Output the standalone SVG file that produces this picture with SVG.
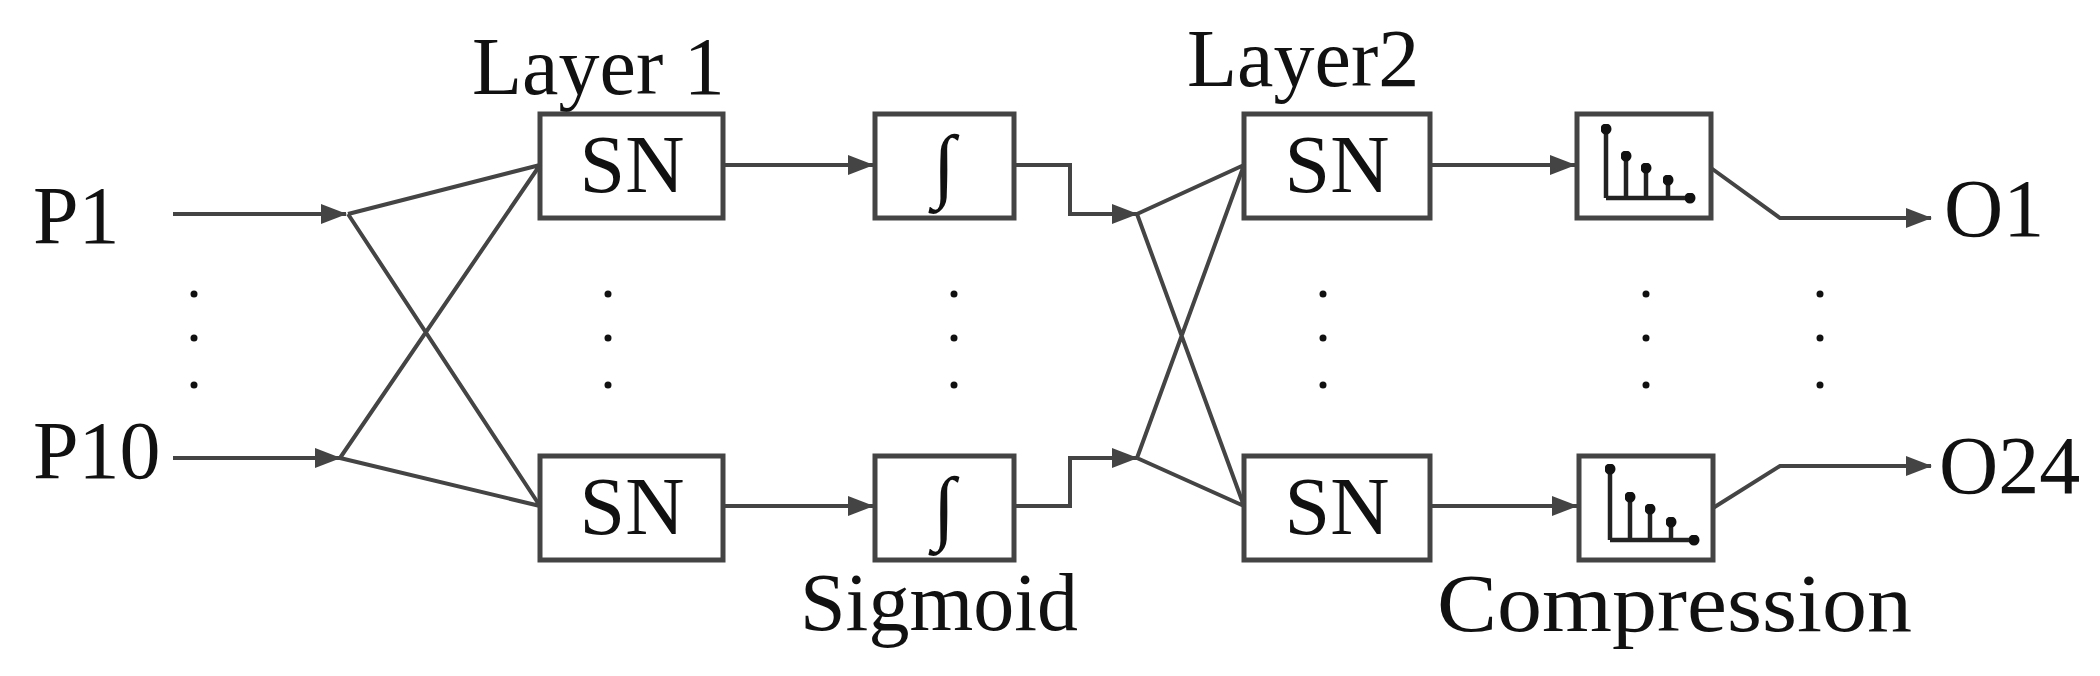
<svg xmlns="http://www.w3.org/2000/svg" width="2100" height="676" viewBox="0 0 2100 676">
<style>
text{font-family:"Liberation Serif","DejaVu Serif",serif;font-size:82px;fill:#111}
.b{fill:#fff;stroke:#444;stroke-width:5}
.c{fill:none;stroke:#444;stroke-width:4}
.t{stroke:#222;stroke-width:4.5;fill:none}
.d{fill:#111}
</style>
<defs>
<marker id="ah" viewBox="0 0 26 20" refX="25" refY="10" markerWidth="26" markerHeight="20" orient="auto" markerUnits="userSpaceOnUse"><path d="M0,0L26,10L0,20z" fill="#444"/></marker>
<marker id="dt" viewBox="0 0 10 10" refX="5" refY="5" markerWidth="11" markerHeight="11" markerUnits="userSpaceOnUse"><circle cx="5" cy="5" r="5" fill="#111"/></marker>
</defs>
<g id="labels">
<text x="33" y="243">P1</text>
<text x="33" y="478">P10</text>
<text x="472" y="94">Layer 1</text>
<text x="1187" y="86">Layer2</text>
<text x="800" y="630">Sigmoid</text>
<text x="1437" y="631" textLength="475" lengthAdjust="spacingAndGlyphs">Compression</text>
<text x="1944" y="236">O1</text>
<text x="1939" y="493">O24</text>
</g>
<g id="connectors">
<path class="c" d="M173,214H346" marker-end="url(#ah)"/>
<path class="c" d="M173,458H340" marker-end="url(#ah)"/>
<path class="c" d="M348,214L540,165M348,214L540,506M340,458L540,165M340,458L540,506"/>
<path class="c" d="M723,165H873" marker-end="url(#ah)"/>
<path class="c" d="M723,506H873" marker-end="url(#ah)"/>
<path class="c" d="M1014,165H1070V214H1137" marker-end="url(#ah)"/>
<path class="c" d="M1014,506H1070V458H1137" marker-end="url(#ah)"/>
<path class="c" d="M1137,214L1244,165M1137,214L1244,506M1137,458L1244,165M1137,458L1244,506"/>
<path class="c" d="M1430,165H1575" marker-end="url(#ah)"/>
<path class="c" d="M1430,506H1577" marker-end="url(#ah)"/>
<path class="c" d="M1711,168L1780,218H1931" marker-end="url(#ah)"/>
<path class="c" d="M1713,508L1780,466H1931" marker-end="url(#ah)"/>
</g>
<g id="sn1a"><rect class="b" x="540" y="114" width="183" height="104"/><text x="632" y="192" text-anchor="middle">SN</text></g>
<g id="sn1b"><rect class="b" x="540" y="456" width="183" height="104"/><text x="632" y="534" text-anchor="middle">SN</text></g>
<g id="sig1"><rect class="b" x="875" y="114" width="139" height="104"/><text x="944" y="192" text-anchor="middle" font-size="70">∫</text></g>
<g id="sig2"><rect class="b" x="875" y="456" width="139" height="104"/><text x="944" y="534" text-anchor="middle" font-size="70">∫</text></g>
<g id="sn2a"><rect class="b" x="1244" y="114" width="186" height="104"/><text x="1337" y="192" text-anchor="middle">SN</text></g>
<g id="sn2b"><rect class="b" x="1244" y="456" width="186" height="104"/><text x="1337" y="534" text-anchor="middle">SN</text></g>
<g id="cmp1"><rect class="b" x="1577" y="114" width="134" height="104"/>
<path class="t" d="M1606,129V198" marker-start="url(#dt)"/><path class="t" d="M1626,156V198" marker-start="url(#dt)"/><path class="t" d="M1646,168V198" marker-start="url(#dt)"/><path class="t" d="M1668,180V198" marker-start="url(#dt)"/><path class="t" d="M1606,198H1690" marker-end="url(#dt)"/></g>
<g id="cmp2"><rect class="b" x="1579" y="456" width="134" height="104"/>
<path class="t" d="M1610,469V540" marker-start="url(#dt)"/><path class="t" d="M1630,497V540" marker-start="url(#dt)"/><path class="t" d="M1650,509V540" marker-start="url(#dt)"/><path class="t" d="M1671,522V540" marker-start="url(#dt)"/><path class="t" d="M1610,540H1694" marker-end="url(#dt)"/></g>
<g id="dots">
<circle class="d" cx="194" cy="294" r="3.5"/><circle class="d" cx="194" cy="338" r="3.5"/><circle class="d" cx="194" cy="385" r="3.5"/>
<circle class="d" cx="608" cy="294" r="3.5"/><circle class="d" cx="608" cy="338" r="3.5"/><circle class="d" cx="608" cy="385" r="3.5"/>
<circle class="d" cx="954" cy="294" r="3.5"/><circle class="d" cx="954" cy="338" r="3.5"/><circle class="d" cx="954" cy="385" r="3.5"/>
<circle class="d" cx="1323" cy="294" r="3.5"/><circle class="d" cx="1323" cy="338" r="3.5"/><circle class="d" cx="1323" cy="385" r="3.5"/>
<circle class="d" cx="1646" cy="294" r="3.5"/><circle class="d" cx="1646" cy="338" r="3.5"/><circle class="d" cx="1646" cy="385" r="3.5"/>
<circle class="d" cx="1820" cy="294" r="3.5"/><circle class="d" cx="1820" cy="338" r="3.5"/><circle class="d" cx="1820" cy="385" r="3.5"/>
</g>
</svg>
